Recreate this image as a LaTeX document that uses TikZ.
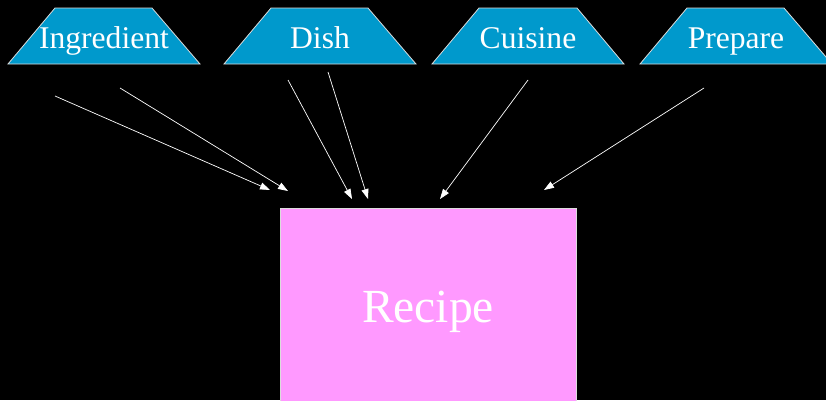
\documentclass[tikz,border=0pt]{standalone}
\usepackage{fontspec}
\setmainfont{Liberation Serif}
\usetikzlibrary{arrows.meta}
\definecolor{bluebox}{RGB}{0,153,204}
\definecolor{pinkbox}{RGB}{255,153,255}
\definecolor{edgegray}{RGB}{220,220,220}
\begin{document}
\begin{tikzpicture}[x=1pt,y=-1pt,
  trap/.style={fill=bluebox,draw=edgegray,line width=0.8pt},
  label/.style={text=white,font=\fontsize{31.6}{36}\selectfont,inner sep=0pt,anchor=base},
  conn/.style={draw=white,line width=0.7pt,-{Triangle[length=10pt,width=7pt]}}]
\clip (0,0) rectangle (826,400);
\fill[black] (0,0) rectangle (826,400);
% trapezoids
\path[trap] (8,64) -- (55,8) -- (152,8) -- (200,64) -- cycle;
\path[trap] (224,64) -- (271,8) -- (368,8) -- (416,64) -- cycle;
\path[trap] (432,64) -- (479,8) -- (577,8) -- (624,64) -- cycle;
\path[trap] (640,64) -- (687,8) -- (784,8) -- (832,64) -- cycle;
\node[label] (ing) at (104,48) {Ingredient};
\node[label] (dish) at (320,48) {Dish};
\node[label] (cui) at (528,48) {Cuisine};
\node[label] (prep) at (736,48) {Prepare};
% recipe box
\path[fill=pinkbox,draw=edgegray,line width=0.8pt] (280,208) rectangle (576,412);
\node[text=white,font=\fontsize{47.5}{54}\selectfont,inner sep=0pt,anchor=base] (rec) at (428,322) {Recipe};
% arrow coordinates
\coordinate (s1) at (55,96);  \coordinate (e1) at (270,190);
\coordinate (s2) at (120,88); \coordinate (e2) at (288,191);
\coordinate (s3) at (288,80); \coordinate (e3) at (352,199);
\coordinate (s4) at (328,72); \coordinate (e4) at (368,199);
\coordinate (s5) at (528,80); \coordinate (e5) at (440,199);
\coordinate (s6) at (704,88); \coordinate (e6) at (544,190);
\foreach \i in {1,...,6} \draw[conn] (s\i) -- (e\i);
\end{tikzpicture}
\end{document}
